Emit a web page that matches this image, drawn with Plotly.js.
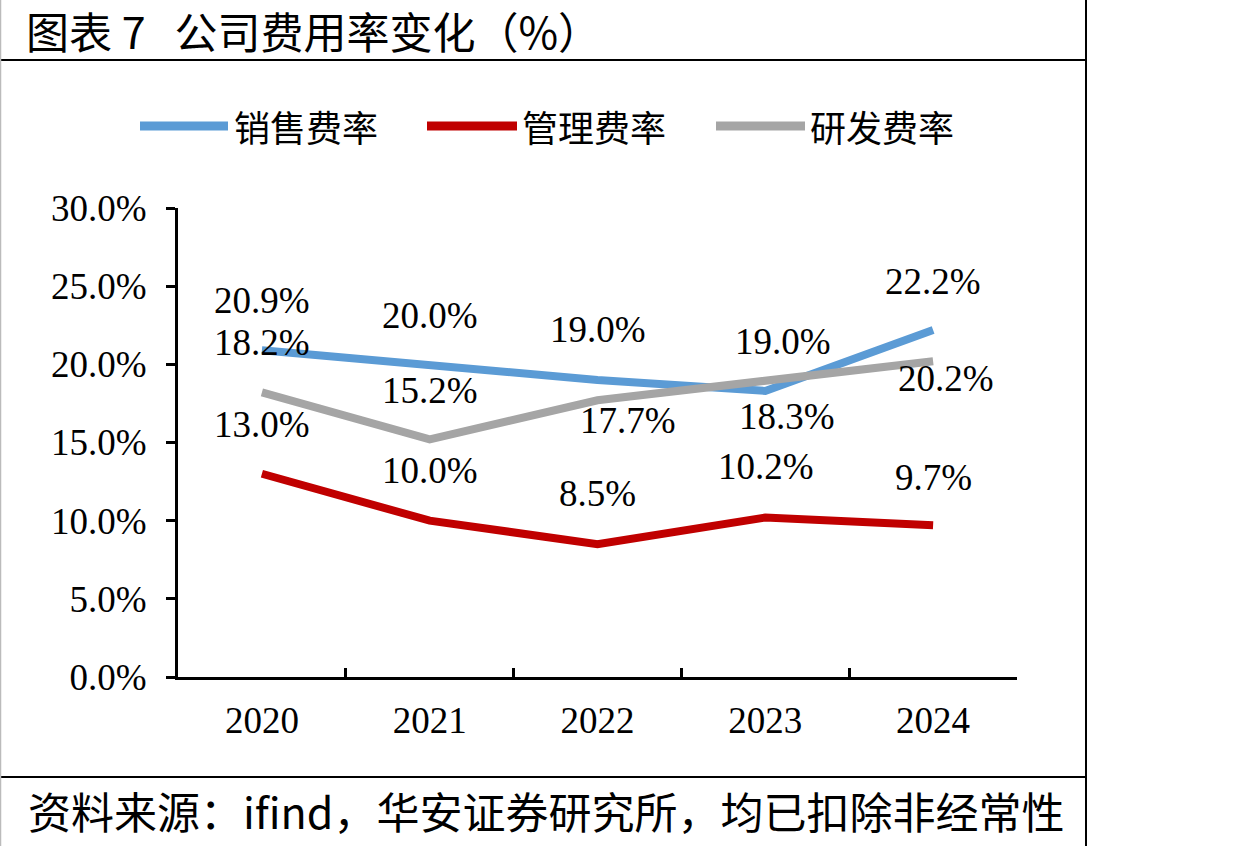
<!DOCTYPE html>
<html>
<head>
<meta charset="utf-8">
<script src="https://cdn.plot.ly/plotly-3.0.1.min.js"></script>
<style>
html,body{margin:0;padding:0;background:#fff;}
#chart{width:1243px;height:846px;}
</style>
</head>
<body>
<div id="chart"></div>
<script>
// ---- data ----
const years = ['2020', '2021', '2022', '2023', '2024'];
const salesRate = [20.9, 20.0, 19.0, 18.3, 22.2];   // 销售费率
const adminRate = [13.0, 10.0, 8.5, 10.2, 9.7];     // 管理费率
const rdRate = [18.2, 15.2, 17.7, 19.0, 20.2];      // 研发费率
const seriesNames = ['销售费率', '管理费率', '研发费率'];
const titleText = '图表\u00A07\u00A0\u00A0\u00A0公司费用率变化（%）';
const sourceText = '资料来源：ifind，华安证券研究所，均已扣除非经常性';

// ---- style ----
const colors = ['#5B9BD5', '#C00000', '#A5A5A5'];
const W = 1243, H = 846;
const L = 178, R = 1017, T = 208, B = 677;
const px = x => (x - L) / (R - L);
const py = y => (B - y) / (B - T);
const serif = 'Liberation Serif, Times New Roman, serif';
const cjk = 'Noto Sans CJK SC, sans-serif';

// label offsets (pixels) per series, per point
const labelShift = [
  {dx: [0, 0, 0, 22, 0],   dy: [50, 49, 50, -26, 48]},
  {dx: [0, 0, 0, 1, 0],    dy: [49, 50, 51, 51, 48]},
  {dx: [0, 0, 30, 18, 13], dy: [50, 49, -20, 38, -17]}
];

const allSeries = [salesRate, adminRate, rdRate];
const traces = allSeries.map((vals, i) => ({
  type: 'scatter', mode: 'lines', x: years, y: vals, name: seriesNames[i],
  line: {color: colors[i], width: 8}, showlegend: false, hoverinfo: 'skip'
}));

const annotations = [];
allSeries.forEach((vals, i) => {
  vals.forEach((v, j) => {
    annotations.push({
      xref: 'x', yref: 'y', x: j, y: v, text: v.toFixed(1) + '%',
      showarrow: false, xshift: labelShift[i].dx[j], yshift: labelShift[i].dy[j],
      font: {family: serif, size: 37, color: '#000'}
    });
  });
});

// custom legend
const legendX = [[140, 228, 232], [427, 517, 520], [716, 805, 808]];
const legendY = 126;
const shapes = [];
seriesNames.forEach((n, i) => {
  shapes.push({type: 'line', xref: 'paper', yref: 'paper',
    x0: px(legendX[i][0]), x1: px(legendX[i][1]), y0: py(legendY), y1: py(legendY),
    line: {color: colors[i], width: 9}});
  annotations.push({xref: 'paper', yref: 'paper', x: px(legendX[i][2]), y: py(legendY),
    xanchor: 'left', yanchor: 'middle', showarrow: false, text: n,
    font: {family: cjk, size: 36, color: '#000'}});
});

// title & source
annotations.push({xref: 'paper', yref: 'paper', x: px(24), y: py(30), xanchor: 'left', yanchor: 'middle',
  showarrow: false, text: titleText, font: {family: cjk, size: 43, color: '#000'}});
annotations.push({xref: 'paper', yref: 'paper', x: px(26), y: py(810), xanchor: 'left', yanchor: 'middle',
  showarrow: false, text: sourceText, font: {family: cjk, size: 43, color: '#000'}});

// frame lines
shapes.push({type: 'line', xref: 'paper', yref: 'paper', x0: px(0), x1: px(1086), y0: py(60), y1: py(60), line: {color: '#000', width: 2}});
shapes.push({type: 'line', xref: 'paper', yref: 'paper', x0: px(0), x1: px(1086), y0: py(777), y1: py(777), line: {color: '#000', width: 2}});
shapes.push({type: 'line', xref: 'paper', yref: 'paper', x0: px(1086), x1: px(1086), y0: py(0), y1: py(846), line: {color: '#000', width: 2}});
shapes.push({type: 'line', xref: 'paper', yref: 'paper', x0: px(0.5), x1: px(0.5), y0: py(0), y1: py(846), line: {color: '#bbbbbb', width: 1.5}});

const layout = {
  width: W, height: H,
  margin: {l: L, r: W - R, t: T, b: H - B, pad: 0},
  paper_bgcolor: '#fff', plot_bgcolor: '#fff',
  showlegend: false,
  xaxis: {
    type: 'category', range: [-0.5, 4.5], showgrid: false, zeroline: false,
    showline: true, linecolor: '#000', linewidth: 3,
    ticks: 'inside', tickson: 'boundaries', ticklen: 9, tickwidth: 3, tickcolor: '#000',
    tickfont: {family: serif, size: 37, color: '#000'}, ticklabelstandoff: 9
  },
  yaxis: {
    range: [0, 30], dtick: 5, tick0: 0, showgrid: false, zeroline: false,
    showline: true, linecolor: '#000', linewidth: 3,
    ticks: 'outside', ticklen: 9, tickwidth: 3, tickcolor: '#000',
    tickformat: '.1f', ticksuffix: '%',
    tickfont: {family: serif, size: 37, color: '#000'}, ticklabelstandoff: 12
  },
  annotations: annotations,
  shapes: shapes
};

Plotly.newPlot('chart', traces, layout, {displayModeBar: false, staticPlot: true});
</script>
</body>
</html>
